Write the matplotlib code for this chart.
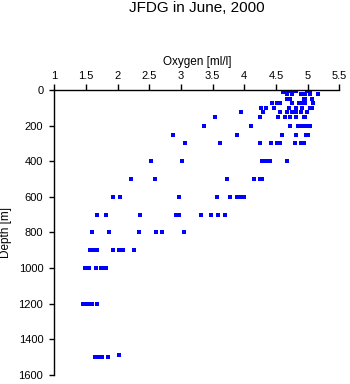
import matplotlib
matplotlib.use("Agg")
import matplotlib.pyplot as plt

plt.rcParams['font.family'] = ['Liberation Sans', 'DejaVu Sans']

# Depth levels [m] and oxygen readings [ml/l] observed at each level
depth_levels = [5, 10, 25, 50, 75, 100, 125, 150, 200, 250, 300, 400, 500,
                600, 700, 800, 900, 1000, 1200, 1490, 1500]
oxygen_by_level = [
    [4.63, 4.66, 4.70, 4.73, 4.76, 4.79, 4.82, 4.99, 5.02],
    [4.61, 5.03],
    [4.67, 4.75, 4.89, 4.92, 4.96, 5.03, 5.17],
    [4.68, 4.72, 4.94, 4.96, 5.07],
    [4.44, 4.51, 4.54, 4.57, 4.75, 4.86, 4.89, 4.93, 4.96, 5.08],
    [4.26, 4.34, 4.47, 4.71, 4.82, 4.91, 5.03, 5.05, 5.07],
    [3.95, 4.29, 4.56, 4.67, 4.75, 4.78, 4.82, 4.89, 4.99],
    [3.54, 4.24, 4.53, 4.64, 4.72, 4.81, 4.94, 4.96],
    [3.36, 4.11, 4.72, 4.85, 4.88, 4.91, 4.97, 5.00, 5.03],
    [2.88, 3.88, 4.59, 4.81, 4.97, 5.00],
    [3.06, 3.62, 4.24, 4.42, 4.51, 4.57, 4.80, 4.89, 4.94],
    [2.53, 3.01, 4.28, 4.32, 4.36, 4.41, 4.67],
    [2.21, 2.59, 3.73, 4.15, 4.24, 4.28],
    [1.93, 2.04, 2.97, 3.57, 3.78, 3.89, 3.93, 3.96, 4.00],
    [1.68, 1.81, 2.35, 2.92, 2.97, 3.32, 3.48, 3.59, 3.70],
    [1.60, 1.86, 2.33, 2.60, 2.70, 3.04],
    [1.56, 1.61, 1.68, 1.93, 2.02, 2.08, 2.26],
    [1.49, 1.55, 1.66, 1.74, 1.77, 1.82],
    [1.46, 1.50, 1.55, 1.60, 1.68],
    [2.02],
    [1.65, 1.70, 1.75, 1.84],
]

x_ticks = [1, 1.5, 2, 2.5, 3, 3.5, 4, 4.5, 5, 5.5]
x_tick_labels = ['1', '1.5', '2', '2.5', '3', '3.5', '4', '4.5', '5', '5.5']
y_ticks = [0, 200, 400, 600, 800, 1000, 1200, 1400, 1600]

oxygen = []
depth = []
for d, vals in zip(depth_levels, oxygen_by_level):
    for v in vals:
        oxygen.append(v)
        depth.append(d)

W, H = 350, 384
fig = plt.figure(figsize=(W / 100, H / 100), dpi=100)
left, right, top, bottom = 54.3, 339.3, 90, 374.8
ax = fig.add_axes([left / W, 1 - bottom / H, (right - left) / W, (bottom - top) / H])

ax.plot(oxygen, depth, linestyle='none', marker='s', ms=2.3, mew=0, color='#0000ff')

ax.set_xlim(1, 5.5)
ax.set_ylim(1600, 0)
ax.xaxis.tick_top()
ax.xaxis.set_label_position('top')
ax.set_xticks(x_ticks)
ax.set_xticklabels(x_tick_labels)
ax.set_yticks(y_ticks)
ax.spines['bottom'].set_visible(False)
ax.spines['right'].set_visible(False)
for s in ('top', 'left'):
    ax.spines[s].set_linewidth(1.0)
ax.tick_params(axis='x', which='both', top=True, bottom=False, direction='out',
               length=4.3, width=1.0, pad=2.2, labelsize=8)
ax.tick_params(axis='y', direction='out', length=3.6, width=1.0, pad=4.3, labelsize=8)

ax.set_xlabel('Oxygen [ml/l]', fontsize=8.5)
ax.xaxis.set_label_coords(0.5, 1 + 25 / (bottom - top))
ax.set_ylabel('Depth [m]', fontsize=8.5)
ax.yaxis.set_label_coords((12 - left) / (right - left), 0.5)

fig.text(197 / W, 1 - 12.5 / H, 'JFDG in June, 2000', ha='center', va='baseline', fontsize=11)

fig.savefig('out.png', dpi=100)
